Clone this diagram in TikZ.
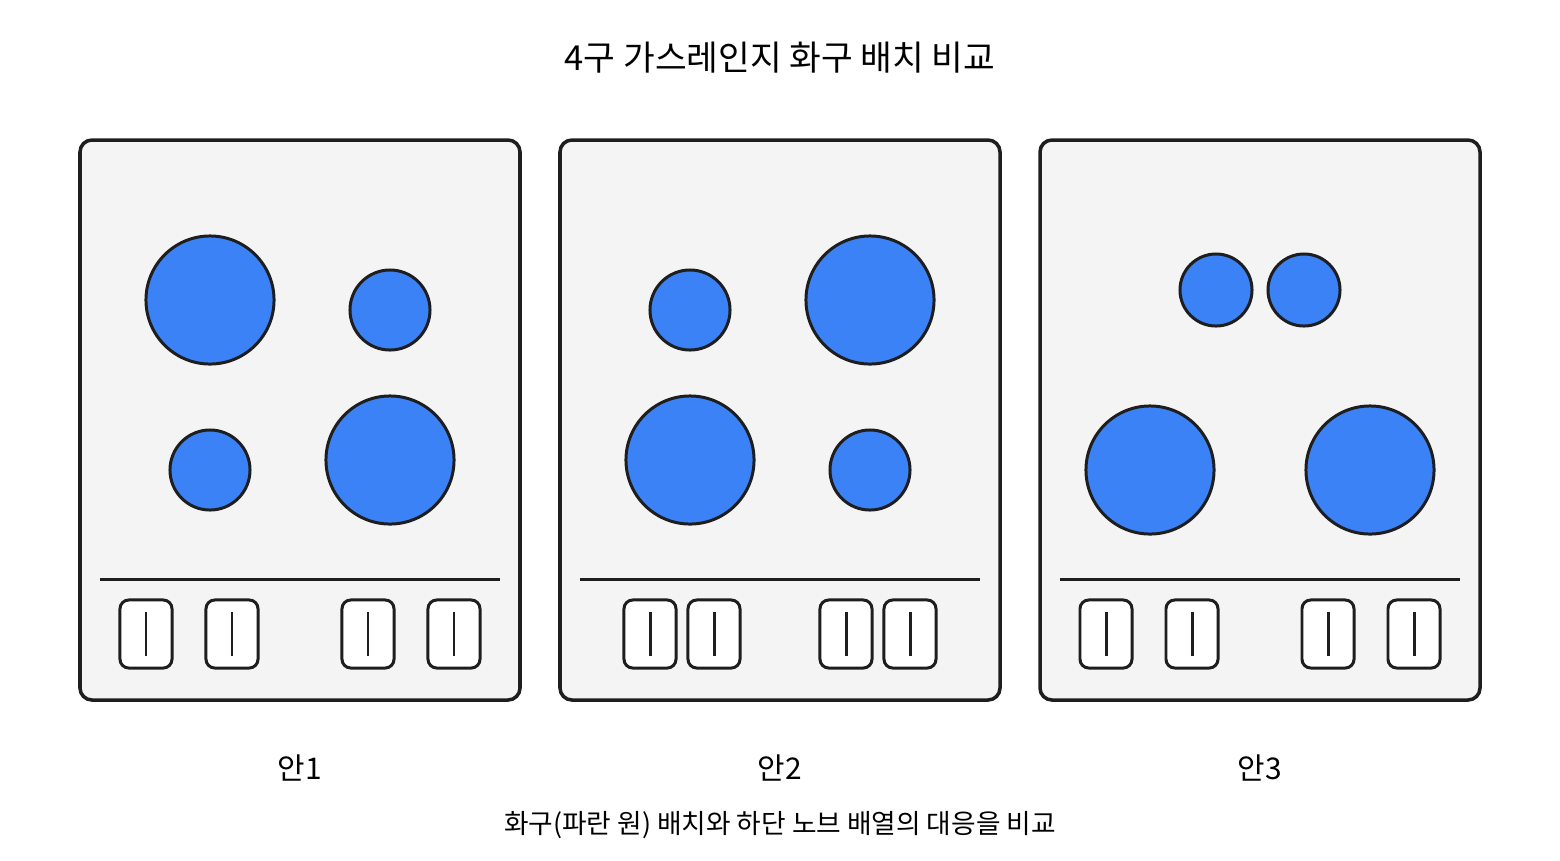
\documentclass[tikz,border=0pt]{standalone}
\usepackage{fontspec}
\setmainfont{Noto Sans CJK KR}
\usetikzlibrary{positioning}
\definecolor{panelgray}{HTML}{F4F4F4}
\definecolor{burnerblue}{HTML}{3B82F6}
\definecolor{inkdark}{HTML}{1E1E1E}
\begin{document}
\begin{tikzpicture}[
		x=0.01cm, y=-0.01cm,
		panel/.style={
			draw=inkdark,
			fill=panelgray,
			line width=1pt,
			rounded corners=3.4pt
			},
		burner/.style={
			circle,
			draw=inkdark,
			fill=burnerblue,
			line width=0.85pt,
			inner sep=0pt
			},
		knob/.style={
			rectangle,
			draw=inkdark,
			fill=white,
			line width=0.85pt,
			rounded corners=2.5pt,
			minimum width=0.52cm,
			minimum height=0.68cm,
			inner sep=0pt
			},
		label/.style={
			font=\fontsize{8.5}{10}\selectfont
			}]
	    \useasboundingbox (0,0) rectangle (1560,860);
	    % Title
	    \node [font=\fontsize{9.8}{11}\selectfont] (title) at (780,58) {4구 가스레인지 화구 배치 비교};

	    % Panels
	    \foreach \px/\name in {80/p1, 560/p2, 1040/p3} {
	        \draw [panel] (\px,140) rectangle ++(440,560);
	        \draw [inkdark, line width=0.85pt] (\px+20,579) -- (\px+420,579);
	    }

	    % Burners
	    \node [burner, minimum size=1.28cm] (b1a) at (210,300) {};
	    \node [burner, minimum size=0.80cm] (b1b) at (390,310) {};
	    \node [burner, minimum size=0.80cm] (b1c) at (210,470) {};
	    \node [burner, minimum size=1.28cm] (b1d) at (390,460) {};
	    \node [burner, minimum size=0.80cm] (b2a) at (690,310) {};
	    \node [burner, minimum size=1.28cm] (b2b) at (870,300) {};
	    \node [burner, minimum size=1.28cm] (b2c) at (690,460) {};
	    \node [burner, minimum size=0.80cm] (b2d) at (870,470) {};
	    \node [burner, minimum size=0.72cm] (b3a) at (1216,290) {};
	    \node [burner, minimum size=0.72cm] (b3b) at (1304,290) {};
	    \node [burner, minimum size=1.28cm] (b3c) at (1150,470) {};
	    \node [burner, minimum size=1.28cm] (b3d) at (1370,470) {};

	    % Knobs
	    \foreach \kx [count=\i] in {146,232,368,454,650,714,846,910,1106,1192,1328,1414} {
	        \node [knob] (k\i) at (\kx,634) {};
	        \draw [inkdark, line width=0.85pt] (k\i.center) ++(0,-22) -- ++(0,44);
	    }

	    % Labels
	    \node [label] (l1) at (300,768) {안1};
	    \node [label] (l2) at (780,768) {안2};
	    \node [label] (l3) at (1260,768) {안3};
	    \node [font=\fontsize{7.6}{9}\selectfont] (caption) at (780,825) {화구(파란 원) 배치와 하단 노브 배열의 대응을 비교};
	\end{tikzpicture}
\end{document}
